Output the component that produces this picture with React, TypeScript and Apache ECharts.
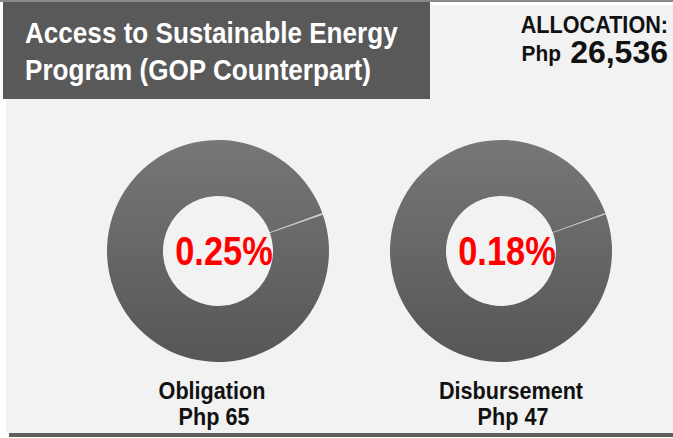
import React, { useEffect, useRef } from "react";
import * as echarts from "echarts";

const TITLE_LINES = ["Access to Sustainable Energy", "Program (GOP Counterpart)"];
const ALLOCATION_LABEL = "ALLOCATION:";
const ALLOCATION_CURRENCY = "Php";
const ALLOCATION_VALUE = "26,536";
const CATEGORIES = ["Obligation", "Disbursement"];
const AMOUNTS = ["Php 65", "Php 47"];
const PERCENTS = [0.25, 0.18];

const FONT = "'Liberation Sans', Arial, sans-serif";
const CENTERS: [number, number][] = [[218, 251], [501, 251]];
const LABEL_X = [212, 511];

export default function App() {
  const ref = useRef<HTMLDivElement>(null);
  useEffect(() => {
    if (!ref.current) return;
    const chart = echarts.init(ref.current, undefined, { renderer: "svg" });
    const ringColor = new echarts.graphic.LinearGradient(0, 0, 0, 1, [
      { offset: 0, color: "#777777" },
      { offset: 1, color: "#565656" },
    ]);
    const series = PERCENTS.map((p, i) => ({
      type: "pie",
      center: CENTERS[i],
      radius: [55, 111],
      startAngle: 20,
      clockwise: true,
      silent: true,
      label: { show: false },
      labelLine: { show: false },
      emphasis: { disabled: true },
      itemStyle: { borderWidth: 0 },
      data: [
        { name: CATEGORIES[i], value: p, itemStyle: { color: "#c9c9c9" } },
        { name: "Remaining", value: 100 - p, itemStyle: { color: ringColor } },
      ],
    }));
    const graphic: any[] = [
      { type: "rect", shape: { x: 0, y: 0, width: 673, height: 2 }, style: { fill: "#8a8a8a" }, z: -10 },
      { type: "rect", shape: { x: 6, y: 5, width: 667, height: 428 }, style: { fill: "#f2f2f2" }, z: -10 },
      { type: "rect", shape: { x: 3, y: 2, width: 427, height: 97 }, style: { fill: "#595959" }, z: -9 },
      { type: "rect", shape: { x: 9, y: 433, width: 664, height: 4 }, style: { fill: "#5e5e5e" }, z: -9 },
    ];
    TITLE_LINES.forEach((t, i) => {
      graphic.push({
        type: "text", x: 25, y: 33 + i * 37, scaleX: 0.9,
        style: { text: t, fill: "#ffffff", font: `bold 29px ${FONT}`, align: "left", verticalAlign: "middle" },
      });
    });
    graphic.push({
      type: "text", x: 668, y: 25, scaleX: 0.94,
      style: { text: ALLOCATION_LABEL, fill: "#111111", font: `bold 23px ${FONT}`, align: "right", verticalAlign: "middle" },
    });
    graphic.push({
      type: "text", x: 668, y: 52, scaleX: 1.0,
      style: { text: ALLOCATION_VALUE, fill: "#111111", font: `bold 32px ${FONT}`, align: "right", verticalAlign: "middle" },
    });
    graphic.push({
      type: "text", x: 561, y: 54, scaleX: 0.95,
      style: { text: ALLOCATION_CURRENCY, fill: "#111111", font: `bold 22px ${FONT}`, align: "right", verticalAlign: "middle" },
    });
    PERCENTS.forEach((p, i) => {
      graphic.push({
        type: "text", x: CENTERS[i][0] + 6, y: CENTERS[i][1], scaleX: 0.86,
        style: { text: p.toFixed(2) + "%", fill: "#ff0000", font: `bold 40px ${FONT}`, align: "center", verticalAlign: "middle" },
      });
      graphic.push({
        type: "text", x: LABEL_X[i], y: 391, scaleX: 0.94,
        style: { text: CATEGORIES[i], fill: "#111111", font: `bold 23px ${FONT}`, align: "center", verticalAlign: "middle" },
      });
      graphic.push({
        type: "text", x: LABEL_X[i] + 2, y: 417, scaleX: 0.94,
        style: { text: AMOUNTS[i], fill: "#111111", font: `bold 23px ${FONT}`, align: "center", verticalAlign: "middle" },
      });
    });
    chart.setOption({
      animation: false,
      backgroundColor: "#ffffff",
      series,
      graphic: { elements: graphic },
    });
    return () => chart.dispose();
  }, []);
  return <div ref={ref} style={{ position: "fixed", left: 0, top: 0, width: 673, height: 438 }} />;
}
